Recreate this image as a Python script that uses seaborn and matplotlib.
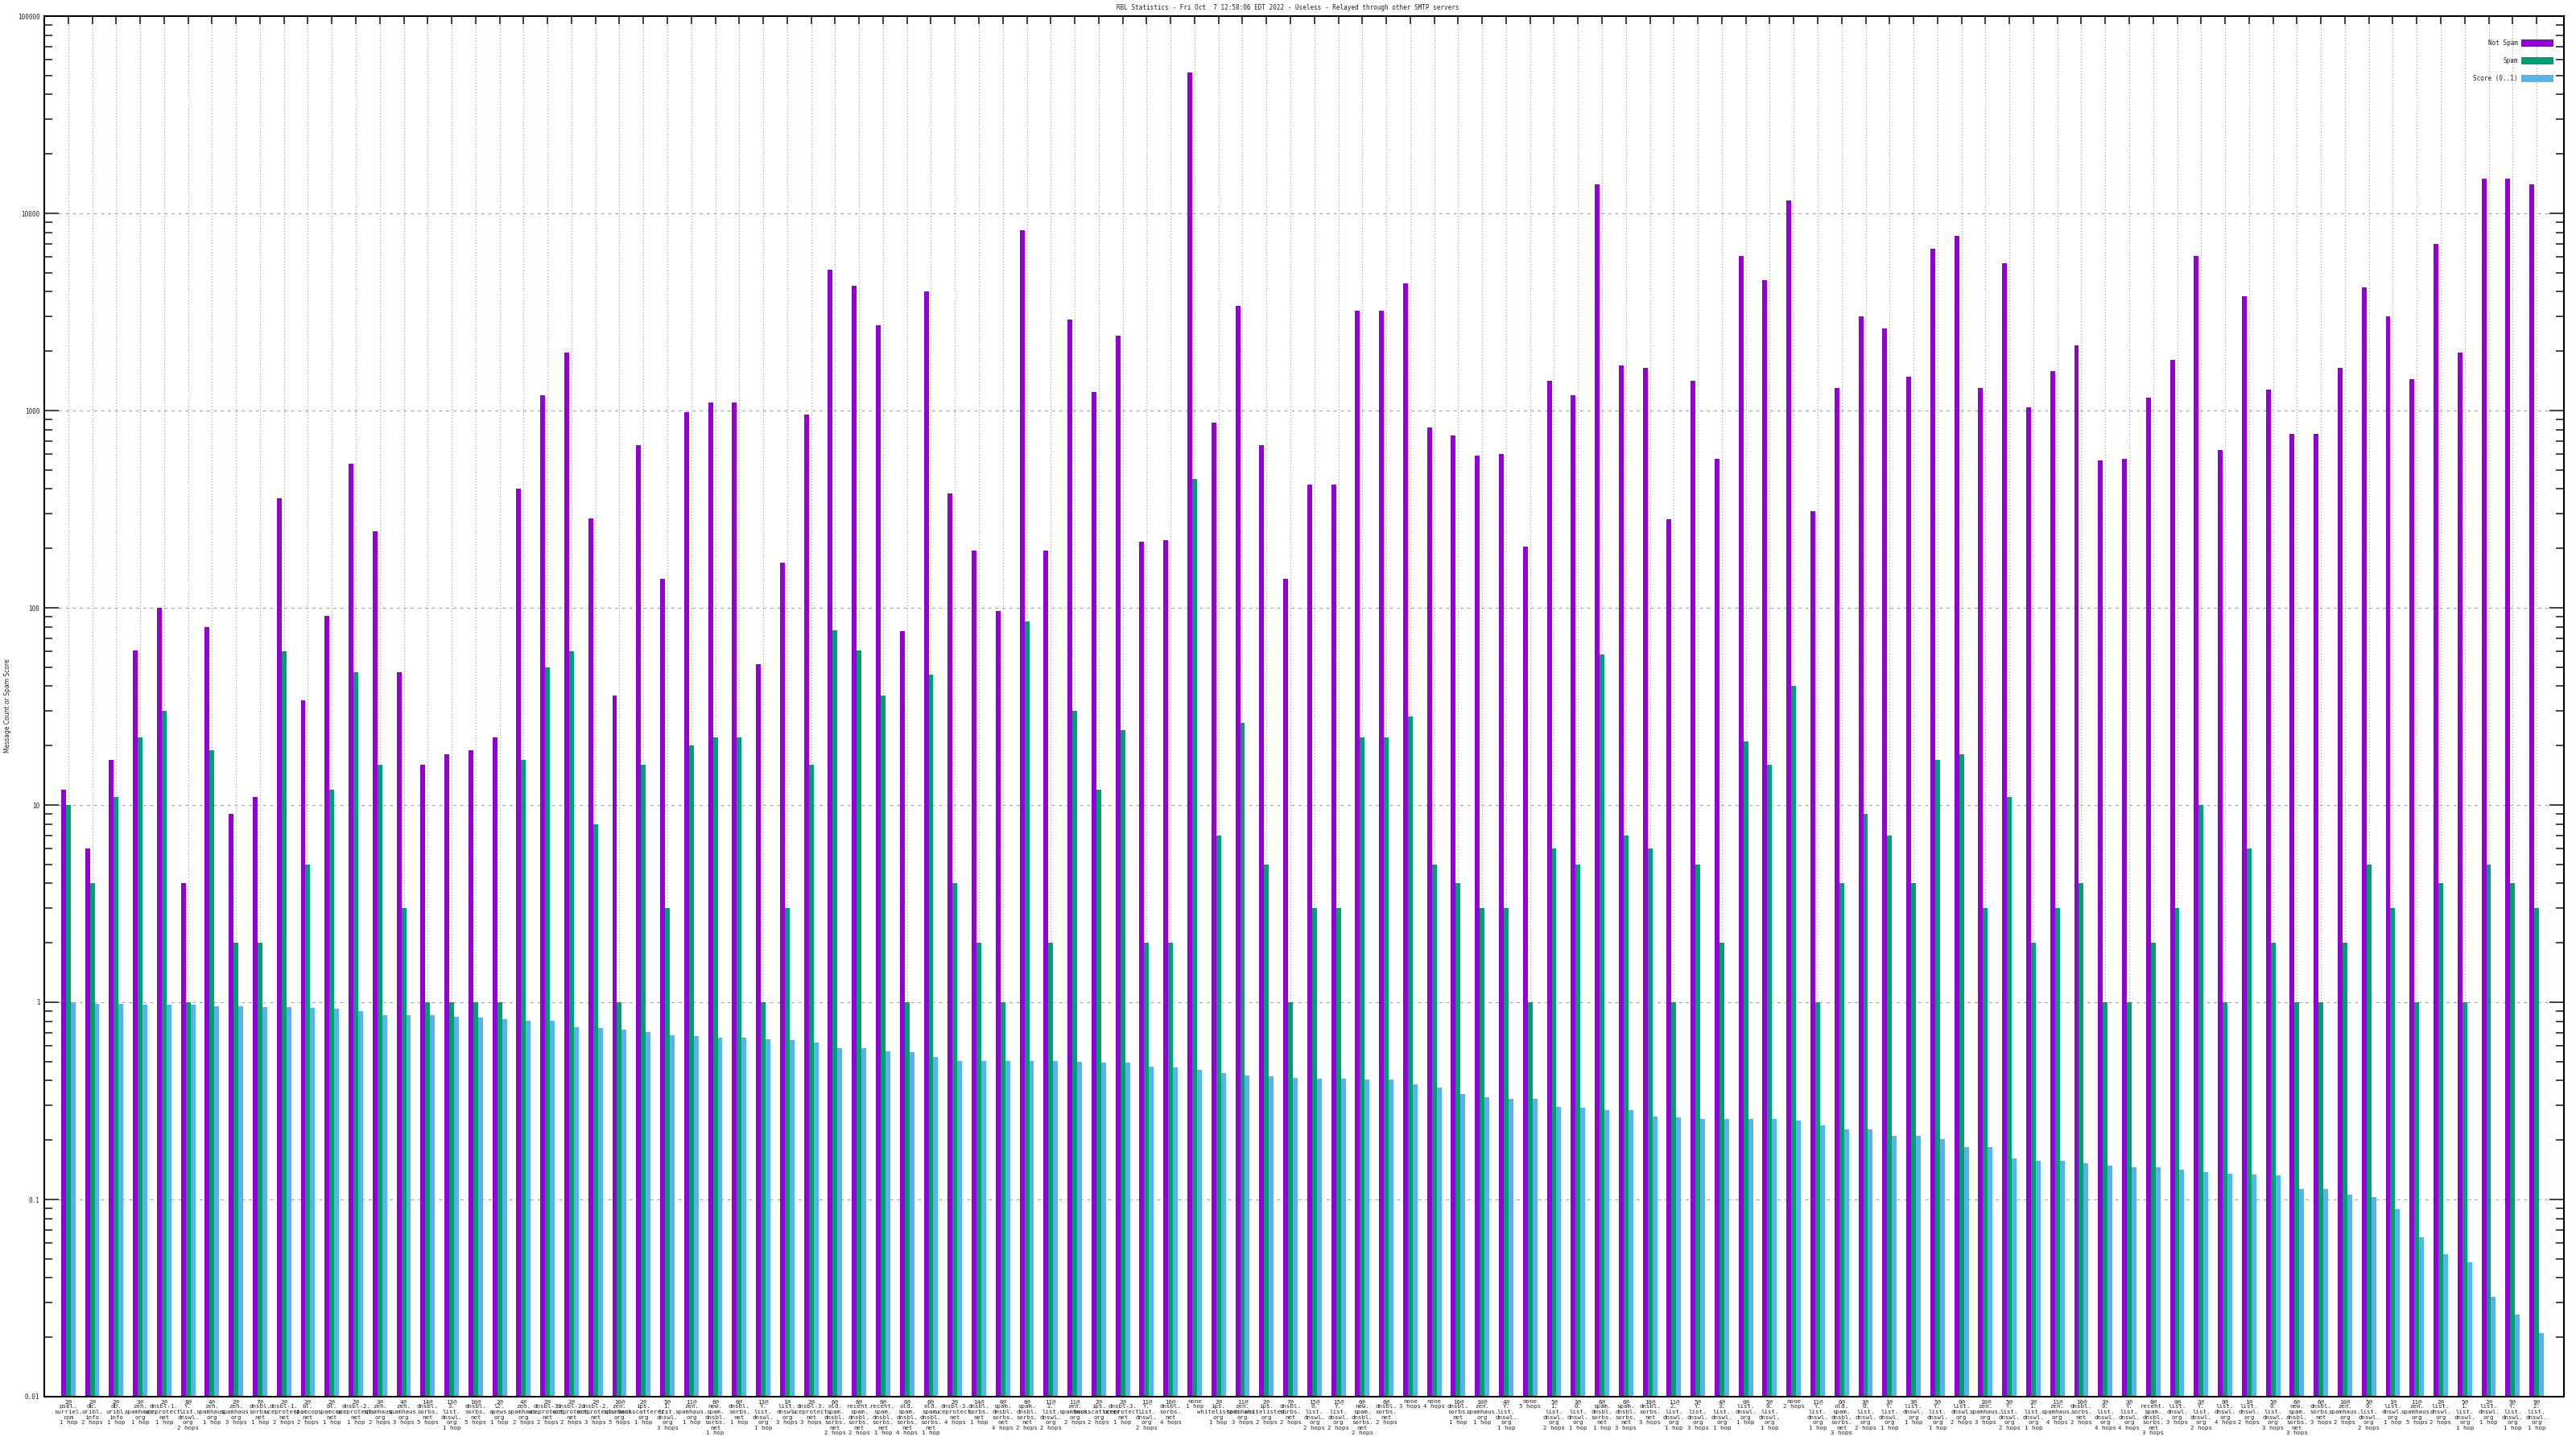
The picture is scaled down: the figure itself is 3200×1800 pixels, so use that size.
import numpy as np
import pandas as pd
import seaborn as sns
import matplotlib
matplotlib.use("Agg")
import matplotlib.pyplot as plt

labels = [
    "2@\npsbl.\nsurriel.\ncom\n1 hop", "2@\ndb.\nuribl.\ninfo\n2 hops", "2@\ndb.\nuribl.\ninfo\n1 hop",
    "3@\nzen.\nspamhaus.\norg\n1 hop", "2@\ndnsbl-1.\nuceprotect.\nnet\n1 hop", "8@\nY.\nlist.\ndnswl.\norg\n2 hops",
    "4@\nzen.\nspamhaus.\norg\n1 hop", "2@\nzen.\nspamhaus.\norg\n3 hops", "7@\ndnsbl.\nsorbs.\nnet\n1 hop",
    "2@\ndnsbl-1.\nuceprotect.\nnet\n2 hops", "2@\nbl.\nspamcop.\nnet\n2 hops", "2@\nbl.\nspamcop.\nnet\n1 hop",
    "2@\ndnsbl-2.\nuceprotect.\nnet\n1 hop", "3@\nzen.\nspamhaus.\norg\n2 hops", "4@\nzen.\nspamhaus.\norg\n3 hops",
    "14@\ndnsbl.\nsorbs.\nnet\n5 hops", "13@\n3.\nlist.\ndnswl.\norg\n1 hop", "10@\ndnsbl.\nsorbs.\nnet\n5 hops",
    "2@\nl2.\napews.\norg\n1 hop", "4@\nzen.\nspamhaus.\norg\n2 hops", "2@\ndnsbl-3.\nuceprotect.\nnet\n2 hops",
    "2@\ndnsbl-2.\nuceprotect.\nnet\n2 hops", "2@\ndnsbl-2.\nuceprotect.\nnet\n3 hops", "10@\nzen.\nspamhaus.\norg\n5 hops",
    "2@\nips.\nbackscatterer.\norg\n1 hop", "5@\n1.\nlist.\ndnswl.\norg\n3 hops", "11@\nzen.\nspamhaus.\norg\n1 hop",
    "6@\nnew.\nspam.\ndnsbl.\nsorbs.\nnet\n1 hop", "6@\ndnsbl.\nsorbs.\nnet\n1 hop", "13@\nY.\nlist.\ndnswl.\norg\n1 hop",
    "1@\nlist.\ndnswl.\norg\n3 hops", "2@\ndnsbl-3.\nuceprotect.\nnet\n3 hops", "6@\nold.\nspam.\ndnsbl.\nsorbs.\nnet\n2 hops",
    "6@\nrecent.\nspam.\ndnsbl.\nsorbs.\nnet\n2 hops", "6@\nrecent.\nspam.\ndnsbl.\nsorbs.\nnet\n1 hop",
    "6@\nold.\nspam.\ndnsbl.\nsorbs.\nnet\n4 hops", "6@\nold.\nspam.\ndnsbl.\nsorbs.\nnet\n1 hop",
    "2@\ndnsbl-3.\nuceprotect.\nnet\n4 hops", "14@\ndnsbl.\nsorbs.\nnet\n1 hop", "6@\nspam.\ndnsbl.\nsorbs.\nnet\n4 hops",
    "6@\nspam.\ndnsbl.\nsorbs.\nnet\n2 hops", "11@\n2.\nlist.\ndnswl.\norg\n2 hops", "11@\nzen.\nspamhaus.\norg\n2 hops",
    "2@\nips.\nbackscatterer.\norg\n2 hops", "2@\ndnsbl-3.\nuceprotect.\nnet\n1 hop", "11@\nY.\nlist.\ndnswl.\norg\n2 hops",
    "10@\ndnsbl.\nsorbs.\nnet\n4 hops", "none\n1 hop", "2@\nips.\nwhitelisted.\norg\n1 hop",
    "11@\nzen.\nspamhaus.\norg\n3 hops", "2@\nips.\nwhitelisted.\norg\n2 hops", "7@\ndnsbl.\nsorbs.\nnet\n2 hops",
    "15@\n0.\nlist.\ndnswl.\norg\n2 hops", "15@\nY.\nlist.\ndnswl.\norg\n2 hops", "6@\nnew.\nspam.\ndnsbl.\nsorbs.\nnet\n2 hops",
    "6@\ndnsbl.\nsorbs.\nnet\n2 hops", "none\n3 hops", "none\n4 hops",
    "10@\ndnsbl.\nsorbs.\nnet\n1 hop", "10@\nzen.\nspamhaus.\norg\n1 hop", "4@\nY.\nlist.\ndnswl.\norg\n1 hop",
    "none\n5 hops", "5@\n1.\nlist.\ndnswl.\norg\n2 hops", "3@\n0.\nlist.\ndnswl.\norg\n1 hop",
    "6@\nspam.\ndnsbl.\nsorbs.\nnet\n1 hop", "6@\nspam.\ndnsbl.\nsorbs.\nnet\n3 hops", "10@\ndnsbl.\nsorbs.\nnet\n3 hops",
    "11@\n2.\nlist.\ndnswl.\norg\n1 hop", "5@\nY.\nlist.\ndnswl.\norg\n3 hops", "4@\n3.\nlist.\ndnswl.\norg\n1 hop",
    "0@\nlist.\ndnswl.\norg\n1 hop", "5@\n0.\nlist.\ndnswl.\norg\n1 hop", "none\n2 hops",
    "11@\nY.\nlist.\ndnswl.\norg\n1 hop", "6@\nold.\nspam.\ndnsbl.\nsorbs.\nnet\n3 hops", "3@\n0.\nlist.\ndnswl.\norg\n2 hops",
    "3@\nY.\nlist.\ndnswl.\norg\n1 hop", "3@\nlist.\ndnswl.\norg\n1 hop", "5@\nY.\nlist.\ndnswl.\norg\n1 hop",
    "0@\nlist.\ndnswl.\norg\n2 hops", "10@\nzen.\nspamhaus.\norg\n3 hops", "5@\nY.\nlist.\ndnswl.\norg\n2 hops",
    "3@\n1.\nlist.\ndnswl.\norg\n1 hop", "11@\nzen.\nspamhaus.\norg\n4 hops", "10@\ndnsbl.\nsorbs.\nnet\n2 hops",
    "3@\n0.\nlist.\ndnswl.\norg\n4 hops", "3@\nY.\nlist.\ndnswl.\norg\n4 hops", "6@\nrecent.\nspam.\ndnsbl.\nsorbs.\nnet\n3 hops",
    "0@\nlist.\ndnswl.\norg\n3 hops", "3@\nY.\nlist.\ndnswl.\norg\n2 hops", "0@\nlist.\ndnswl.\norg\n4 hops",
    "1@\nlist.\ndnswl.\norg\n2 hops", "5@\n0.\nlist.\ndnswl.\norg\n3 hops", "6@\nnew.\nspam.\ndnsbl.\nsorbs.\nnet\n3 hops",
    "6@\ndnsbl.\nsorbs.\nnet\n3 hops", "10@\nzen.\nspamhaus.\norg\n2 hops", "5@\n0.\nlist.\ndnswl.\norg\n2 hops",
    "1@\nlist.\ndnswl.\norg\n1 hop", "11@\nzen.\nspamhaus.\norg\n5 hops", "2@\nlist.\ndnswl.\norg\n2 hops",
    "5@\n1.\nlist.\ndnswl.\norg\n1 hop", "2@\nlist.\ndnswl.\norg\n1 hop", "9@\nY.\nlist.\ndnswl.\norg\n1 hop",
    "9@\n2.\nlist.\ndnswl.\norg\n1 hop",
]

not_spam = [
    12, 6, 17, 61, 100, 4, 80, 9, 11, 360, 34, 91, 540, 245, 47, 16, 18, 19, 22, 400,
    1200, 1970, 285, 36, 670, 140, 980, 1100, 1100, 52, 170, 950, 5200, 4300, 2700, 76, 4000, 380, 195, 96,
    8200, 195, 2900, 1240, 2400, 217, 220, 52000, 870, 3400, 670, 140, 420, 420, 3200, 3200, 4400, 820, 750, 590,
    600, 205, 1420, 1200, 14000, 1700, 1650, 280, 1420, 570, 6100, 4600, 11600, 310, 1300, 3000, 2600, 1480, 6600, 7700,
    1300, 5600, 1040, 1580, 2150, 560, 570, 1160, 1800, 6100, 630, 3800, 1280, 760, 760, 1650, 4200, 3000, 1440, 7000,
    1970, 15000, 15000, 14000,
]

spam = [
    10, 4, 11, 22, 30, 1, 19, 2, 2, 60, 5, 12, 47, 16, 3, 1, 1, 1, 1, 17,
    50, 60, 8, 1, 16, 3, 20, 22, 22, 1, 3, 16, 77, 61, 36, 1, 46, 4, 2, 1,
    85, 2, 30, 12, 24, 2, 2, 450, 7, 26, 5, 1, 3, 3, 22, 22, 28, 5, 4, 3,
    3, 1, 6, 5, 58, 7, 6, 1, 5, 2, 21, 16, 40, 1, 4, 9, 7, 4, 17, 18,
    3, 11, 2, 3, 4, 1, 1, 2, 3, 10, 1, 6, 2, 1, 1, 2, 5, 3, 1, 4,
    1, 5, 4, 3,
]

score = [
    1.0, 0.986, 0.986, 0.975, 0.968, 0.968, 0.958, 0.958, 0.947, 0.947,
    0.94, 0.93, 0.898, 0.863, 0.863, 0.863, 0.847, 0.838, 0.818, 0.809,
    0.809, 0.75, 0.737, 0.729, 0.703, 0.683, 0.671, 0.664, 0.664, 0.652,
    0.64, 0.627, 0.587, 0.583, 0.566, 0.56, 0.529, 0.505, 0.505, 0.505,
    0.505, 0.505, 0.50, 0.496, 0.492, 0.473, 0.468, 0.452, 0.439, 0.426,
    0.423, 0.414, 0.411, 0.411, 0.404, 0.404, 0.385, 0.371, 0.341, 0.331,
    0.325, 0.325, 0.295, 0.293, 0.285, 0.285, 0.264, 0.26, 0.256, 0.255,
    0.255, 0.255, 0.252, 0.238, 0.227, 0.227, 0.211, 0.211, 0.203, 0.185,
    0.185, 0.161, 0.157, 0.157, 0.152, 0.149, 0.146, 0.145, 0.141, 0.138,
    0.135, 0.134, 0.133, 0.113, 0.113, 0.106, 0.103, 0.089, 0.064, 0.053,
    0.048, 0.032, 0.026, 0.021,
]

series_names = ["Not Spam", "Spam", "Score (0..1)"]
colors = ["#9400d3", "#009e73", "#56b4e9"]
title = "RBL Statistics - Fri Oct  7 12:58:06 EDT 2022 - Useless - Relayed through other SMTP servers"

n = len(labels)
df = pd.DataFrame({
    "idx": np.tile(np.arange(n), 3),
    "value": not_spam + spam + score,
    "series": np.repeat(series_names, n),
})

sns.set_style("ticks")
plt.rcParams["font.family"] = ["DejaVu Sans Mono", "DejaVu Sans"]

fig = plt.figure(figsize=(32, 18), dpi=100)
ax = fig.add_axes([55 / 3200, 65 / 1800, 3130 / 3200, 1715 / 1800])

sns.barplot(data=df, x="idx", y="value", hue="series", order=list(range(n)),
            hue_order=series_names, palette=colors, width=0.6, gap=0,
            linewidth=0, saturation=1, errorbar=None, ax=ax)

ax.set_yscale("log")
ax.set_ylim(0.01, 100000)
ax.set_xlim(-1.0, n - 1 + 1.14)

# grid behind the bars
ax.set_axisbelow(True)
ax.yaxis.grid(True, which="major", color="#a8a8a8", linestyle=(0, (3, 4)), linewidth=0.9)
ax.xaxis.grid(True, color="#a8a8a8", linestyle=(0, (1, 2)), linewidth=0.9)

ax.set_xticks(range(n))
ax.set_xticklabels(labels, fontsize=5.3, linespacing=1.12)
yt = [0.01, 0.1, 1, 10, 100, 1000, 10000, 100000]
ax.set_yticks(yt)
ax.set_yticklabels(["0.01", "0.1", "1", "10", "100", "1000", "10000", "100000"], fontsize=5.5)

ax.tick_params(axis="y", which="major", direction="in", length=13, width=1.2,
               left=True, right=True, pad=4)
ax.tick_params(axis="y", which="minor", direction="in", length=7, width=1.2,
               left=True, right=True)
ax.tick_params(axis="x", which="major", direction="in", length=7, width=1.2,
               bottom=True, top=True, pad=2)
for s in ax.spines.values():
    s.set_visible(True)
    s.set_linewidth(1.5)
    s.set_color("black")

ax.set_xlabel("")
ax.set_ylabel("")
fig.text(10 / 3200, 1 - 877 / 1800, "Message Count or Spam Score", rotation=90,
         ha="center", va="center", fontsize=5.5, family="DejaVu Sans")
fig.text(0.5, 1 - 10 / 1800, title, ha="center", va="center", fontsize=5.5)

handles, _ = ax.get_legend_handles_labels()
ax.legend(handles, series_names, loc="upper right", bbox_to_anchor=(1 - 10 / 3130, 1 - 26 / 1715),
          frameon=False, markerfirst=False, fontsize=5.5, handlelength=5.2,
          handleheight=1.3, labelspacing=1.7, borderaxespad=0, handletextpad=0.6)

fig.savefig("out.png", dpi=100)
